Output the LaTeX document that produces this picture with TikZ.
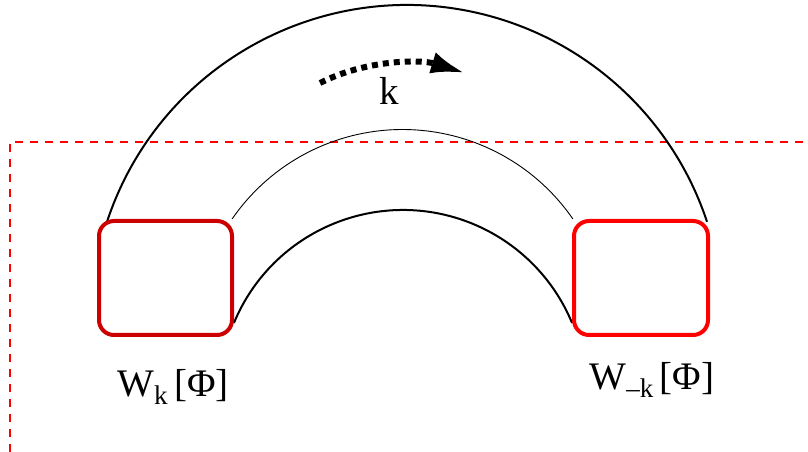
\documentclass[tikz,border=0pt]{standalone}
\usepackage{fontspec}
\setmainfont{Liberation Serif}
\usetikzlibrary{arrows.meta}
\definecolor{darkred}{RGB}{204,0,0}
\definecolor{brightred}{RGB}{255,0,0}
\tikzset{
  boxstyle/.style={draw, line width=4pt, rounded corners=15pt, inner sep=0pt,
    minimum height=114pt},
  thickarc/.style={line width=2pt},
  thinarc/.style={line width=0.9pt},
  reddash/.style={draw=brightred, line width=1.2pt, dash pattern=on 8pt off 7pt},
  lbl/.style={inner sep=0pt, anchor=base, font=\fontsize{39}{40}\selectfont},
  dotarrow/.style={line width=6pt, dash pattern=on 6pt off 5pt,
    -{Latex[length=34pt,width=22pt]}}
}
\newcommand{\subk}[1]{\raisebox{-0.2em}{\fontsize{27}{28}\selectfont #1}}
\begin{document}
\begin{tikzpicture}[x=1pt,y=1pt]
\useasboundingbox (0,0) rectangle (808,452);
% dashed red frame
\coordinate (d1) at (10,0);
\coordinate (d2) at (10,310);
\coordinate (d3) at (808,310);
\draw[reddash] (d1) -- (d2) -- (d3);
% arcs
\draw[thickarc] (407,131) ++(161.7:316) arc[start angle=161.7, end angle=18.3, radius=316];
\draw[thinarc] (402.5,115.5) ++(145.4:207) arc[start angle=145.4, end angle=34.6, radius=207];
\draw[thickarc] (403,59) ++(157.5:183) arc[start angle=157.5, end angle=22.5, radius=183];
% boxes
\node[boxstyle, draw=darkred, minimum width=133pt] (wl) at (165.5,174) {};
\node[boxstyle, draw=brightred, minimum width=134pt] (wr) at (641,174) {};
% labels
\node[lbl] (ll) at (173,55) {W\subk{k}\,[Φ]};
\node[lbl] (lr) at (652,62) {W\subk{–k}\,[Φ]};
\node[lbl] (kl) at (389,347) {k};
% dotted arrow
\coordinate (a1) at (320,369);
\coordinate (a2) at (465,379);
\draw[dotarrow] (a1) .. controls (365,392) and (420,393) .. (a2);
\end{tikzpicture}
\end{document}
